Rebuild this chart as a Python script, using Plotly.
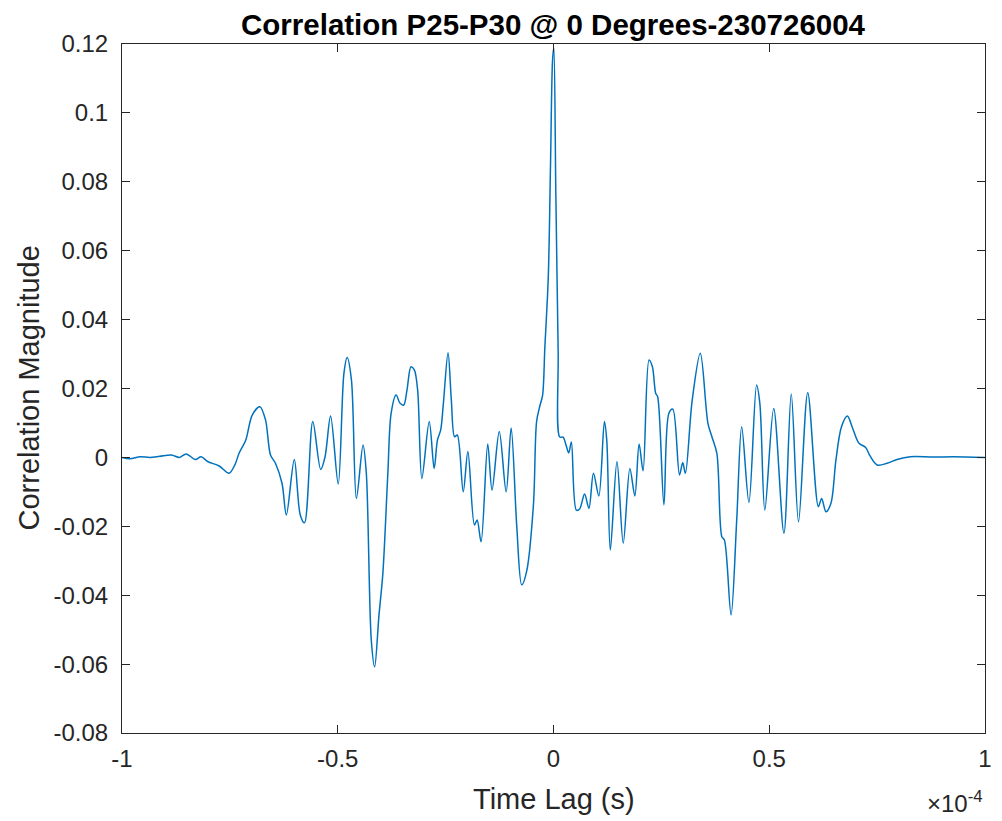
import plotly.graph_objects as go

# Time lag in units of 1e-4 s, correlation magnitude
lag_e4 = [
    -1.0, -0.9816, -0.958, -0.9356, -0.9126, -0.8857, -0.8667, -0.8513, -0.8299, -0.8168,
    -0.8016, -0.7747, -0.7517, -0.7379, -0.7287, -0.7133, -0.6982, -0.6805, -0.6674, -0.6559,
    -0.6444, -0.6292, -0.6191, -0.6007, -0.5869, -0.5770, -0.5579, -0.5395, -0.5294, -0.5166,
    -0.4989, -0.4857, -0.4782, -0.4683, -0.4568, -0.4414, -0.4338, -0.4223, -0.4145, -0.4046,
    -0.3954, -0.3839, -0.3763, -0.3648, -0.3556, -0.3471, -0.3395, -0.3303, -0.3225, -0.3149,
    -0.3051, -0.2880, -0.2766, -0.2690, -0.2614, -0.2552, -0.2444, -0.2368, -0.2292, -0.2230,
    -0.2092, -0.1984, -0.1832, -0.1770, -0.1678, -0.1524, -0.1425, -0.1257, -0.1097, -0.0982,
    -0.0851, -0.0736, -0.0621, -0.0464, -0.0391, -0.0315, -0.0253, -0.0200, -0.0122, -0.0069,
    -0.0023, 0.0007, 0.0053, 0.0108, 0.0145, 0.0223, 0.0283, 0.0352, 0.0414, 0.0529,
    0.0605, 0.0720, 0.0821, 0.0926, 0.1051, 0.1179, 0.1234, 0.1317, 0.1471, 0.1616,
    0.1770, 0.1885, 0.1984, 0.2076, 0.2214, 0.2292, 0.2368, 0.2414, 0.2559, 0.2674,
    0.2766, 0.2920, 0.2995, 0.3057, 0.3211, 0.3402, 0.3579, 0.3671, 0.3786, 0.3901,
    0.3961, 0.4115, 0.4246, 0.4361, 0.4529, 0.4706, 0.4782, 0.4897, 0.5103, 0.5340,
    0.5510, 0.5678, 0.5892, 0.6138, 0.6214, 0.6315, 0.6430, 0.6545, 0.6674, 0.6811,
    0.6926, 0.7080, 0.7234, 0.7333, 0.7501, 0.7731, 0.7961, 0.8269, 0.8805, 0.9264,
    1.0,
]
corr = [
    0.0, -0.0004, 0.0002, 0.0, 0.0003, 0.0007, 0.0, 0.001, -0.0006, 0.0002,
    -0.0012, -0.0025, -0.0046, -0.002, 0.0012, 0.005, 0.0123, 0.0147, 0.0109, 0.0007,
    -0.0017, -0.0075, -0.0167, -0.0006, -0.0167, -0.019, 0.0104, -0.0035, 0.0002, 0.012,
    -0.0077, 0.0244, 0.029, 0.0225, -0.0119, 0.0036, -0.0046, -0.053, -0.0608, -0.046,
    -0.0336, -0.0046, 0.0128, 0.0181, 0.0157, 0.0152, 0.0196, 0.0263, 0.0254, 0.0196,
    -0.0061, 0.0104, -0.0032, 0.005, 0.008, 0.0157, 0.0304, 0.0167, 0.006, 0.0065,
    -0.01, 0.0017, -0.0196, -0.0182, -0.0245, 0.0039, -0.0095, 0.0075, -0.01, 0.0085,
    -0.0201, -0.037, -0.033, -0.0135, 0.0105, 0.015, 0.018, 0.032, 0.052, 0.085,
    0.115, 0.119, 0.0776, 0.0309, 0.0059, 0.0059, 0.0039, 0.0013, 0.0045, -0.0153,
    -0.015, -0.0106, -0.0148, -0.0046, -0.0112, 0.0104, 0.005, -0.0269, -0.0012, -0.0249,
    -0.0032, -0.0112, 0.0039, -0.0039, 0.0283, 0.0263, 0.0186, 0.0176, -0.0138, 0.0128,
    0.014, -0.0051, -0.0015, -0.0046, 0.0162, 0.0302, 0.0099, 0.006, 0.0012, -0.023,
    -0.024, -0.0457, -0.0182, 0.0089, -0.0131, 0.021, 0.0157, -0.0153, 0.0142, -0.022,
    0.0184, -0.0187, 0.0188, -0.0143, -0.0119, -0.0158, -0.0133, -0.0008, 0.0089, 0.012,
    0.0087, 0.0041, 0.0029, 0.0005, -0.0022, -0.0017, -0.0006, 0.0002, 0.0001, 0.0002,
    0.0,
]

x_tick_vals_e4 = [-1, -0.5, 0, 0.5, 1]
x_tick_text = ["-1", "-0.5", "0", "0.5", "1"]
y_tick_vals = [-0.08, -0.06, -0.04, -0.02, 0, 0.02, 0.04, 0.06, 0.08, 0.1, 0.12]
y_tick_text = ["-0.08", "-0.06", "-0.04", "-0.02", "0", "0.02", "0.04", "0.06", "0.08", "0.1", "0.12"]

title_text = "Correlation P25-P30 @ 0 Degrees-230726004"
x_label = "Time Lag (s)"
y_label = "Correlation Magnitude"

SCALE = 1e-4
lag_s = [v * SCALE for v in lag_e4]

FONT = "Liberation Sans, Arial, Helvetica, sans-serif"
AX = "#262626"

fig = go.Figure()
fig.add_trace(go.Scatter(
    x=lag_s, y=corr, mode="lines",
    line=dict(color="#0072BD", width=1.5, shape="spline", smoothing=0.9),
    showlegend=False, hoverinfo="skip",
))

axis_common = dict(
    showgrid=False, zeroline=False, showline=True, linecolor=AX, linewidth=1,
    mirror="ticks", ticks="inside", ticklen=8, tickwidth=1, tickcolor=AX,
    tickfont=dict(family=FONT, size=24, color=AX),
)

fig.update_layout(
    width=1002, height=821,
    paper_bgcolor="white", plot_bgcolor="white",
    margin=dict(l=122, r=10, t=44, b=88, pad=0),
    xaxis=dict(range=[-1e-4, 1e-4], tickvals=[v * SCALE for v in x_tick_vals_e4],
               ticktext=x_tick_text, ticklabelstandoff=4, **axis_common),
    yaxis=dict(range=[-0.08, 0.12], tickvals=y_tick_vals, ticktext=y_tick_text,
               ticklabelstandoff=8, **axis_common),
    annotations=[
        dict(text="<b>" + title_text + "</b>", xref="paper", yref="paper", x=0.5, y=1,
             xanchor="center", yanchor="bottom", yshift=1, showarrow=False,
             font=dict(family=FONT, size=29.5, color="black")),
        dict(text=x_label, xref="paper", yref="paper", x=0.5, y=0, xanchor="center",
             yanchor="top", yshift=-48, showarrow=False,
             font=dict(family=FONT, size=29, color=AX)),
        dict(text=y_label, xref="paper", yref="paper", x=0, y=0.5, xanchor="right",
             yanchor="middle", xshift=-76, textangle=-90, showarrow=False,
             font=dict(family=FONT, size=29, color=AX)),
        dict(text="×10<sup>-4</sup>", xref="paper", yref="paper", x=1, y=0, xanchor="right",
             yanchor="top", yshift=-52, xshift=0, showarrow=False,
             font=dict(family=FONT, size=24, color=AX)),
    ],
)

fig.write_html("out.html")
